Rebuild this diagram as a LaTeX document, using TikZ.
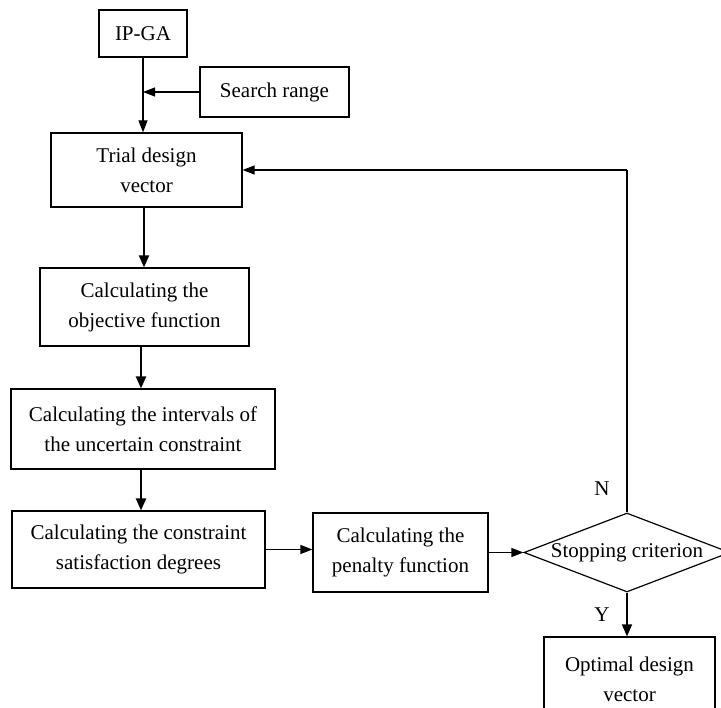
\documentclass[tikz,border=0pt]{standalone}
\usepackage{fontspec}
\setmainfont{Liberation Serif}
\usetikzlibrary{arrows.meta,shapes.geometric}
\begin{document}
\begin{tikzpicture}[x=1pt,y=-1pt,
  box/.style={draw, line width=1.2pt, inner sep=0pt, align=center,
    font=\fontsize{21}{30}\selectfont},
  lbl/.style={font=\fontsize{21}{25}\selectfont, inner sep=0pt},
  arr/.style={line width=1.2pt, -{Triangle[length=12pt,width=9pt]}},
  tarr/.style={line width=2.2pt, -{Triangle[length=12pt,width=10pt]}},
  ln/.style={line width=1.2pt}]
\useasboundingbox (0,0) rectangle (721,708);
\clip (0,0) rectangle (721,708);
\node[box, minimum width=88pt, minimum height=47pt] (ipga) at (143,33.5) {IP-GA};
\node[box, minimum width=149pt, minimum height=50pt] (search) at (274.5,92) {Search range};
\node[box, minimum width=191pt, minimum height=74pt] (trial) at (146.5,170) {Trial design\\vector};
\node[box, minimum width=209pt, minimum height=78pt] (obj) at (144.5,307) {Calculating the\\objective function};
\node[box, minimum width=264pt, minimum height=80pt] (intv) at (143,429) {Calculating the intervals of\\the uncertain constraint};
\node[box, minimum width=253pt, minimum height=77pt] (cons) at (138.5,549.5) {Calculating the constraint\\satisfaction degrees};
\node[box, minimum width=175pt, minimum height=79pt] (pen) at (400.5,552.5) {Calculating the\\penalty function};
\node[box, diamond, aspect=2.6, minimum width=206pt, minimum height=79pt] (dia) at (627,552.5) {};
\node[lbl] (diatext) at (627,553) {Stopping criterion};
\node[box, minimum width=171pt, minimum height=84pt] (opt) at (629.5,679) {Optimal design\\vector};
\node[lbl] (nl) at (602,489) {N};
\node[lbl] (yl) at (602,615) {Y};
\coordinate (join) at (ipga.south |- search.west);
\coordinate (corner) at (dia.north |- trial.east);
\coordinate (colA) at (144,0);
\coordinate (colB) at (141,0);
\draw[ln] (ipga.south) -- (join);
\draw[arr] (join) -- (ipga.south |- trial.north);
\draw[arr] (search.west) -- (join);
\draw[tarr] (colA |- trial.south) -- (colA |- obj.north);
\draw[tarr] (colB |- obj.south) -- (colB |- intv.north);
\draw[tarr] (colB |- intv.south) -- (colB |- cons.north);
\draw[arr] (cons.east) -- (cons.east -| pen.west);
\draw[arr] (pen.east) -- (dia.west);
\draw[ln] (dia.north) -- (corner);
\draw[arr] (corner) -- (trial.east);
\draw[tarr, line width=1.6pt] (dia.south) -- (dia.south |- opt.north);
\end{tikzpicture}
\end{document}
